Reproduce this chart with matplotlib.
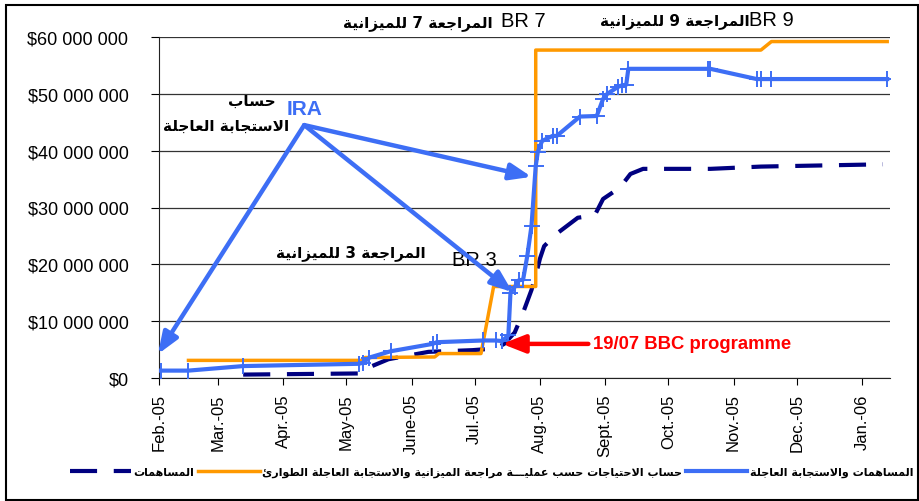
import matplotlib
matplotlib.use("Agg")
import matplotlib.pyplot as plt
import matplotlib.dates as mdates
from matplotlib.lines import Line2D
from matplotlib.patches import Rectangle
from matplotlib.ticker import FuncFormatter
import pandas as pd

#%% Arabic shaping (matplotlib does no joining / right-to-left itself)

AR_FORMS = {  # isolated, final, initial, medial
    'ا': ('\uFE8D', '\uFE8E', None, None),
    'ب': ('\uFE8F', '\uFE90', '\uFE91', '\uFE92'),
    'ة': ('\uFE93', '\uFE94', None, None),
    'ت': ('\uFE95', '\uFE96', '\uFE97', '\uFE98'),
    'ج': ('\uFE9D', '\uFE9E', '\uFE9F', '\uFEA0'),
    'ح': ('\uFEA1', '\uFEA2', '\uFEA3', '\uFEA4'),
    'ر': ('\uFEAD', '\uFEAE', None, None),
    'ز': ('\uFEAF', '\uFEB0', None, None),
    'س': ('\uFEB1', '\uFEB2', '\uFEB3', '\uFEB4'),
    'ط': ('\uFEC1', '\uFEC2', '\uFEC3', '\uFEC4'),
    'ع': ('\uFEC9', '\uFECA', '\uFECB', '\uFECC'),
    'ل': ('\uFEDD', '\uFEDE', '\uFEDF', '\uFEE0'),
    'م': ('\uFEE1', '\uFEE2', '\uFEE3', '\uFEE4'),
    'ن': ('\uFEE5', '\uFEE6', '\uFEE7', '\uFEE8'),
    'ه': ('\uFEE9', '\uFEEA', '\uFEEB', '\uFEEC'),
    'و': ('\uFEED', '\uFEEE', None, None),
    'ي': ('\uFEF1', '\uFEF2', '\uFEF3', '\uFEF4'),
    'ئ': ('\uFE89', '\uFE8A', '\uFE8B', '\uFE8C'),
}
TATWEEL = 'ـ'


def ar(s):
    out = []
    prev_joins = False
    i = 0
    while i < len(s):
        c = s[i]
        nxt = s[i + 1] if i + 1 < len(s) else ''
        if c == 'ل' and nxt == 'ا':
            out.append('\uFEFC' if prev_joins else '\uFEFB')
            prev_joins = False
            i += 2
            continue
        if c == TATWEEL:
            out.append(c)
            prev_joins = True
            i += 1
            continue
        if c not in AR_FORMS:
            out.append(c)
            prev_joins = False
            i += 1
            continue
        iso, fin, ini, med = AR_FORMS[c]
        can_next = ini is not None and (nxt in AR_FORMS or nxt == TATWEEL)
        if prev_joins and can_next:
            g = med
        elif prev_joins:
            g = fin
        elif can_next:
            g = ini
        else:
            g = iso
        out.append(g)
        prev_joins = ini is not None
        i += 1
    return ''.join(reversed(out))


#%% Dados (valores em milhões de US$)

blue_dates = ['2005-02-02', '2005-02-15', '2005-03-13', '2005-05-07', '2005-05-09',
              '2005-05-12', '2005-05-22', '2005-06-11', '2005-06-13', '2005-07-05',
              '2005-07-11', '2005-07-14', '2005-07-17', '2005-07-18', '2005-07-20',
              '2005-07-22', '2005-07-24', '2005-07-26', '2005-07-28', '2005-07-30',
              '2005-07-31', '2005-08-02', '2005-08-07', '2005-08-09', '2005-08-20',
              '2005-08-28', '2005-08-31', '2005-09-02', '2005-09-07', '2005-09-09',
              '2005-09-11', '2005-09-12', '2005-10-20', '2005-10-21', '2005-11-12',
              '2005-11-14', '2005-11-19', '2006-01-13']
blue_vals = [1.3, 1.3, 2.1, 2.5, 2.7,
             3.6, 4.7, 6.0, 6.3, 6.6,
             6.6, 6.5, 7.5, 15.0, 16.0,
             17.2, 17.3, 21.5, 26.8, 37.3,
             39.8, 41.7, 42.6, 42.6, 46.0,
             46.1, 49.1, 50.0, 51.2, 51.5,
             51.6, 54.4, 54.4, 54.4, 52.6,
             52.6, 52.6, 52.6]

orange_dates = ['2005-02-15', '2005-05-09', '2005-05-10', '2005-06-12', '2005-06-14',
                '2005-07-04', '2005-07-10', '2005-07-30', '2005-07-30', '2005-11-14',
                '2005-11-19', '2006-01-13']
orange_vals = [3.1, 3.1, 3.6, 3.7, 4.3,
               4.3, 16.1, 16.1, 57.7, 57.7,
               59.2, 59.2]

navy_dates = ['2005-03-13', '2005-05-07', '2005-05-10', '2005-05-21', '2005-06-09',
              '2005-06-30', '2005-07-11', '2005-07-15', '2005-07-20', '2005-07-24',
              '2005-07-28', '2005-07-31', '2005-08-01', '2005-08-03', '2005-08-09',
              '2005-08-19', '2005-08-27', '2005-08-31', '2005-09-08', '2005-09-13',
              '2005-09-19', '2005-10-21', '2005-11-14', '2006-01-11']
navy_vals = [0.6, 0.8, 1.6, 3.3, 4.6,
             4.9, 5.2, 6.0, 8.0, 11.5,
             15.5, 19.5, 21.0, 23.2, 25.4,
             28.2, 28.6, 31.5, 33.5, 35.9,
             36.8, 36.8, 37.2, 37.6]

month_ticks = pd.date_range('2005-02-01', '2006-01-01', freq='MS')
month_labels = ['Feb.-05', 'Mar.-05', 'Apr.-05', 'May-05', 'June-05', 'Jul.-05',
                'Aug.-05', 'Sept.-05', 'Oct.-05', 'Nov.-05', 'Dec.-05', 'Jan.-06']

lbl_blue = 'المساهمات والاستجابة العاجلة'
lbl_orange = 'حساب الاحتياجات حسب عمليـــة مراجعة الميزانية والاستجابة العاجلة الطوارئ'
lbl_navy = 'المساهمات'

azul = '#3d6ef5'
laranja = '#ff9900'
marinho = '#000080'
vermelho = '#ff0000'

AR_FONT = ['DejaVu Sans']
plt.rcParams['font.family'] = ['Liberation Sans', 'DejaVu Sans']

d = pd.to_datetime

#%% Gráfico

fig = plt.figure(figsize=(9.19, 5.02), dpi=100)
ax = fig.add_axes([159 / 919, 123 / 502, 731 / 919, 341 / 502])

ax.plot(d(navy_dates), navy_vals, color=marinho, lw=3.0, dashes=(6.5, 4.0), zorder=3)
ax.plot(d(orange_dates), orange_vals, color=laranja, lw=2.5, zorder=4)
ax.plot(d(blue_dates), blue_vals, color=azul, lw=3.0, marker='+', ms=11, mew=1.4, zorder=5)

ax.set_xlim(d('2005-02-01'), d('2006-01-14 08:00'))
ax.set_ylim(0, 60)
ax.set_yticks(range(0, 61, 10))
ax.yaxis.set_major_formatter(FuncFormatter(
    lambda v, p: '$' + f'{v * 1e6:,.0f}'.replace(',', ' ')))
ax.set_xticks(month_ticks)
ax.set_xticklabels(month_labels, rotation=90)
ax.tick_params(axis='y', labelsize=13, length=6, pad=16, direction='out')
ax.tick_params(axis='x', labelsize=12, length=5, pad=6, direction='out')
ax.grid(axis='y', color='#333333', lw=0.9)
ax.set_axisbelow(True)
for s in ['top', 'right']:
    ax.spines[s].set_visible(False)
ax.spines['left'].set_color('#222222')
ax.spines['bottom'].set_color('#222222')

# setas IRA
ira_vertex = (d('2005-04-11'), 44.5)
ira_targets = [(d('2005-01-31 12:00'), 4.2), (d('2005-07-28'), 35.4), (d('2005-07-19'), 15.1)]
for alvo in ira_targets:
    ax.annotate('', xy=alvo, xytext=ira_vertex,
                arrowprops=dict(arrowstyle='-|>,head_length=1.3,head_width=0.5',
                                color=azul, lw=3.2, shrinkA=0, shrinkB=0),
                annotation_clip=False, zorder=6)

ax.text(d('2005-04-11'), 47.4, 'IRA', color=azul, fontsize=15, fontweight='bold',
        ha='center', va='center')
ax.text(d('2005-03-17'), 48.8, ar('حساب'), family=AR_FONT, fontsize=11,
        fontweight='bold', ha='center', va='center')
ax.text(d('2005-03-05'), 44.4, ar('الاستجابة العاجلة'), family=AR_FONT, fontsize=11,
        fontweight='bold', ha='center', va='center')

# revisões orçamentárias
ax.text(d('2005-06-04'), 62.7, ar('المراجعة 7 للميزانية'), family=AR_FONT, fontsize=11,
        fontweight='bold', ha='center', va='center', clip_on=False)
ax.text(d('2005-07-24'), 62.9, 'BR 7', fontsize=14.5, ha='center', va='center', clip_on=False)
ax.text(d('2005-10-04'), 63.0, ar('المراجعة 9 للميزانية'), family=AR_FONT, fontsize=11,
        fontweight='bold', ha='center', va='center', clip_on=False)
ax.text(d('2005-11-19'), 63.0, 'BR 9', fontsize=14.5, ha='center', va='center', clip_on=False)
ax.text(d('2005-05-03'), 22.2, ar('المراجعة 3 للميزانية'), family=AR_FONT, fontsize=11,
        fontweight='bold', ha='center', va='center')
ax.text(d('2005-07-01'), 20.8, 'BR 3', fontsize=14.5, ha='center', va='center')

# programa BBC
ax.annotate('', xy=(d('2005-07-14'), 6.0), xytext=(d('2005-08-24'), 6.0),
            arrowprops=dict(arrowstyle='-|>,head_length=1.4,head_width=0.55',
                            color=vermelho, lw=3.2, shrinkA=0, shrinkB=0), zorder=6)
ax.text(d('2005-08-26'), 6.0, '19/07 BBC programme', color=vermelho, fontsize=13.3,
        fontweight='bold', ha='left', va='center')

# legenda
handles = [Line2D([], [], color=marinho, lw=3.0, dashes=(6.5, 4.0)),
           Line2D([], [], color=laranja, lw=2.5),
           Line2D([], [], color=azul, lw=3.0)]
leg = fig.legend(handles, [ar(lbl_navy), ar(lbl_orange), ar(lbl_blue)],
                 loc='center', bbox_to_anchor=(0.535, 0.058), ncol=3, frameon=False,
                 handlelength=5.5, handletextpad=0.25, columnspacing=0.35,
                 borderpad=0.1, borderaxespad=0.1,
                 prop=dict(family=AR_FONT, weight='bold', size=8))

fig.patches.append(Rectangle((6 / 919, 1 / 502), 912 / 919, 495 / 502,
                             transform=fig.transFigure, fill=False,
                             edgecolor='black', lw=1.5))

fig.savefig('out.png', dpi=100)
